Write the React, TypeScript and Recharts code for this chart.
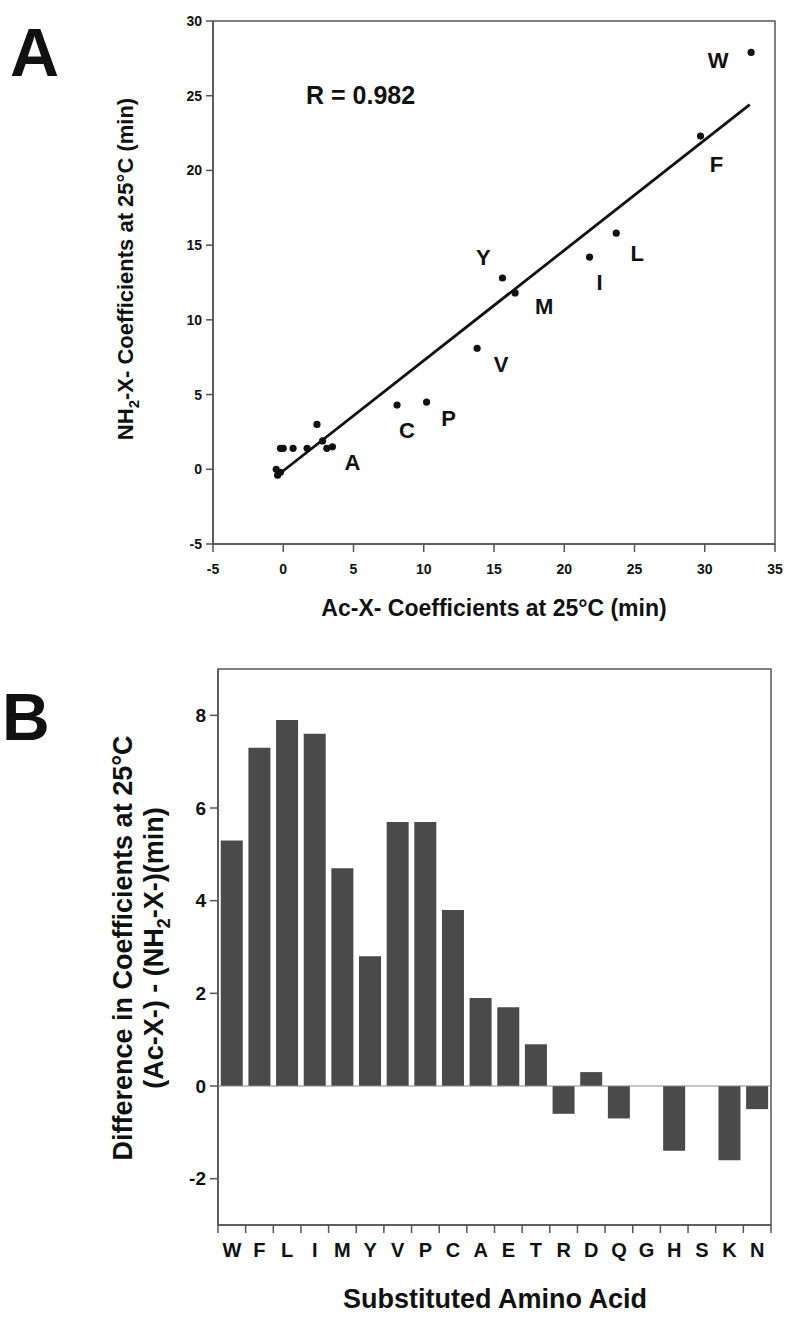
import React from "react";
import {
  ComposedChart, Scatter, BarChart, Bar, XAxis, YAxis,
  ReferenceArea, ReferenceLine,
} from "recharts";

// panel A / B share the amino acid order used in panel B
const AMINO_ACIDS = ["W", "F", "L", "I", "M", "Y", "V", "P", "C", "A", "E", "T", "R", "D", "Q", "G", "H", "S", "K", "N"];
const AC_COEFF = [33.3, 29.7, 23.7, 21.8, 16.5, 15.6, 13.8, 10.2, 8.1, 3.5, 3.1, 2.8, 2.4, 1.7, 0.7, -0.2, 0.0, -0.4, -0.2, -0.5];
const NH2_COEFF = [27.9, 22.3, 15.8, 14.2, 11.8, 12.8, 8.1, 4.5, 4.3, 1.5, 1.4, 1.9, 3.0, 1.4, 1.4, -0.2, 1.4, -0.4, 1.4, 0.0];
const LABELED_POINTS = ["W", "F", "L", "I", "M", "Y", "V", "P", "C", "A"];
const FIT_AC = [-0.4, 33.2];
const FIT_NH2 = [-0.4, 24.4];
const R_VALUE = "0.982";
const DIFF = [5.3, 7.3, 7.9, 7.6, 4.7, 2.8, 5.7, 5.7, 3.8, 1.9, 1.7, 0.9, -0.6, 0.3, -0.7, 0, -1.4, 0, -1.6, -0.5];

const AC_TICKS = [-5, 0, 5, 10, 15, 20, 25, 30, 35];
const NH2_TICKS = [-5, 0, 5, 10, 15, 20, 25, 30];
const DIFF_TICKS = [-2, 0, 2, 4, 6, 8];

// label placement relative to each point (px)
const LABEL_OFFSET: Record<string, [number, number]> = {
  W: [-33, 8], F: [16, 28], L: [21, 20], I: [10, 25], Y: [-19, -21],
  M: [29, 14], V: [24, 16], P: [22, 16], C: [10, 25], A: [20, 16],
};

const FONT = "'Liberation Sans', Arial, sans-serif";
const INK = "#111";
const FRAME = "#555";

const pointData = AMINO_ACIDS.map((name, i) => ({ name, x: AC_COEFF[i], y: NH2_COEFF[i] }));
const fitData = FIT_AC.map((x, i) => ({ x, y: FIT_NH2[i] }));
const barData = AMINO_ACIDS.map((name, i) => ({ name, diff: DIFF[i] }));

const PointShape = (props: any) => {
  const { cx, cy, payload } = props;
  const off = LABELED_POINTS.includes(payload.name) ? LABEL_OFFSET[payload.name] : null;
  return (
    <g>
      <circle cx={cx} cy={cy} r={3.6} fill={INK} />
      {off && (
        <text x={cx + off[0]} y={cy + off[1]} textAnchor="middle" dominantBaseline="central"
          fontFamily={FONT} fontWeight="bold" fontSize={22} fill={INK}>
          {payload.name}
        </text>
      )}
    </g>
  );
};

const BAR_STEP = (771 - 218) / AMINO_ACIDS.length;

const AminoTick = (props: any) => {
  const { x, y, payload, index } = props;
  const half = payload?.offset || BAR_STEP / 2;
  return (
    <g>
      <line x1={x - half} x2={x - half} y1={y} y2={y + 8} stroke={FRAME} strokeWidth={1.5} />
      {index === AMINO_ACIDS.length - 1 && (
        <line x1={x + half} x2={x + half} y1={y} y2={y + 8} stroke={FRAME} strokeWidth={1.5} />
      )}
      <text x={x} y={y + 32} textAnchor="middle" fontFamily={FONT} fontWeight="bold" fontSize={20} fill={INK}>
        {payload.value}
      </text>
    </g>
  );
};

const tickStyleA = { fontFamily: FONT, fontWeight: "bold", fontSize: 14, fill: INK };
const tickStyleB = { fontFamily: FONT, fontWeight: "bold", fontSize: 19, fill: INK };

export default function App() {
  return (
    <div style={{ position: "absolute", left: 0, top: 0, width: 788, height: 1318, background: "#fff" }}>
      <div style={{ position: "absolute", left: 0, top: 0 }}>
        <ComposedChart width={788} height={640} margin={{ top: 21, right: 13, bottom: 56, left: 0 }}>
          <XAxis type="number" dataKey="x" domain={[-5, 35]} ticks={AC_TICKS} interval={0}
            allowDataOverflow height={40} tickSize={8} tickMargin={12}
            stroke={FRAME} strokeWidth={1.5} tick={tickStyleA} />
          <YAxis type="number" dataKey="y" domain={[-5, 30]} ticks={NH2_TICKS} interval={0}
            allowDataOverflow width={213} tickSize={7} tickMargin={4}
            stroke={FRAME} strokeWidth={1.5} tick={tickStyleA} />
          <ReferenceArea x1={-5} x2={35} y1={-5} y2={30} fill="none" fillOpacity={0}
            stroke={FRAME} strokeWidth={1.5} ifOverflow="visible" />
          <Scatter data={fitData} line={{ stroke: INK, strokeWidth: 2.8 }} shape={() => <g />}
            isAnimationActive={false} />
          <Scatter data={pointData} shape={PointShape} isAnimationActive={false} />
        </ComposedChart>
      </div>

      <div style={{ position: "absolute", left: 0, top: 620 }}>
        <BarChart width={788} height={698} data={barData} barCategoryGap="10%"
          margin={{ top: 49, right: 17, bottom: 43, left: 0 }}>
          <XAxis dataKey="name" interval={0} height={50} tickLine={false} tickSize={0} tickMargin={0}
            stroke={FRAME} strokeWidth={1.5} tick={(p: any) => <AminoTick {...p} />} />
          <YAxis domain={[-3, 9]} ticks={DIFF_TICKS} interval={0} allowDataOverflow width={218}
            tickSize={8} tickMargin={4} stroke={FRAME} strokeWidth={1.5} tick={tickStyleB} />
          <ReferenceArea y1={-3} y2={9} fill="none" fillOpacity={0} stroke={FRAME} strokeWidth={1.5} />
          <ReferenceLine y={0} stroke="#888" strokeWidth={1} />
          <Bar dataKey="diff" fill="#4a4a4a" isAnimationActive={false} />
        </BarChart>
      </div>

      <svg width={788} height={1318} style={{ position: "absolute", left: 0, top: 0, pointerEvents: "none" }}>
        <g fontFamily={FONT} fontWeight="bold" fill={INK}>
          <text x={10} y={76} fontSize={68}>A</text>
          <text x={2} y={740} fontSize={66}>B</text>

          <text x={306} y={104} fontSize={25}>R = {R_VALUE}</text>

          <g transform="translate(0,269) rotate(-90)">
            <text x={0} y={133} textAnchor="middle" fontSize={22}>
              NH<tspan dy={6} fontSize={15}>2</tspan><tspan dy={-6}>-X- Coefficients at 25°C (min)</tspan>
            </text>
          </g>
          <text x={494} y={616} textAnchor="middle" fontSize={23}>Ac-X- Coefficients at 25°C (min)</text>

          <g transform="translate(0,948) rotate(-90)">
            <text x={0} y={132} textAnchor="middle" fontSize={27}>Difference in Coefficients at 25°C</text>
            <text x={0} y={163} textAnchor="middle" fontSize={27}>
              (Ac-X-) - (NH<tspan dy={7} fontSize={18}>2</tspan><tspan dy={-7}>-X-)(min)</tspan>
            </text>
          </g>
          <text x={495} y={1308} textAnchor="middle" fontSize={27}>Substituted Amino Acid</text>
        </g>
      </svg>
    </div>
  );
}
